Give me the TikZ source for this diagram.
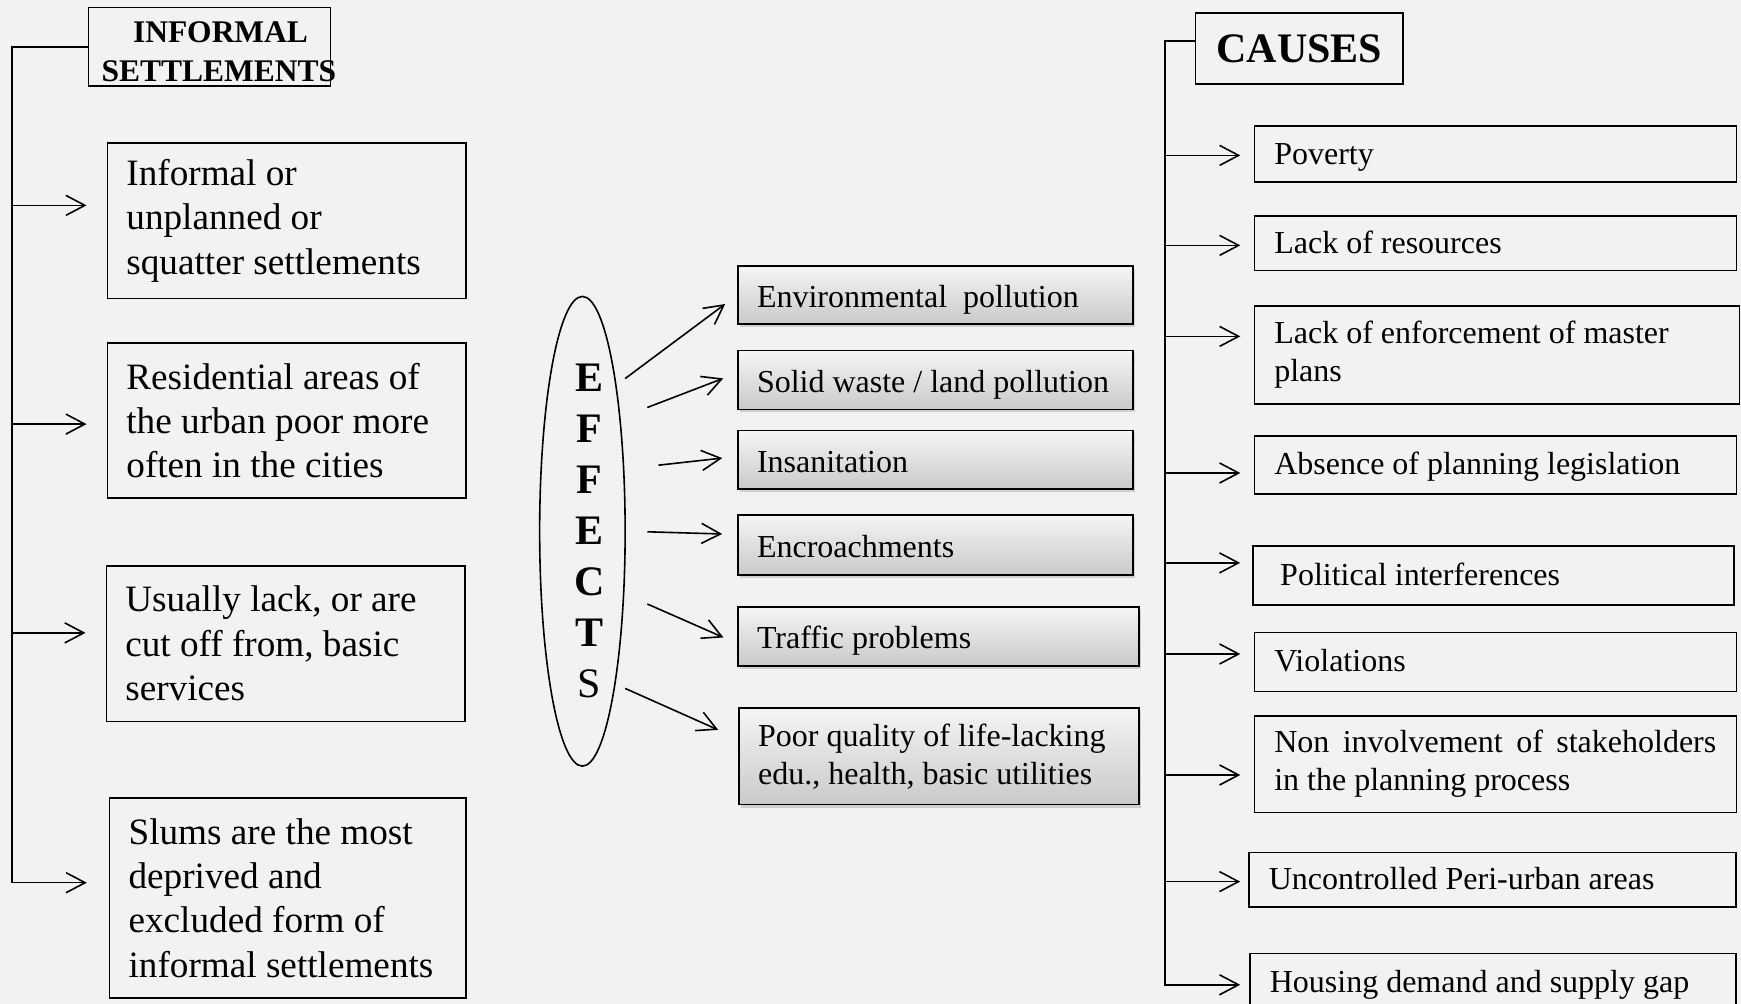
\documentclass[tikz,border=0pt]{standalone}
\usepackage{fontspec}
\setmainfont{Liberation Serif}
\usetikzlibrary{arrows.meta}
\usetikzlibrary{shapes.geometric}
\usetikzlibrary{shadows}
\usetikzlibrary{calc}
\definecolor{bgGray}{RGB}{242,242,242}

\begin{document}
\begin{tikzpicture}[x=0.5pt,y=-0.5pt,
  conn/.style={line width=0.8pt,-{Straight Barb[length=9.5pt,width=10pt]}},
  tight/.style={execute at begin node={\spaceskip=.25em plus .1em minus .05em\relax}},
  lbox/.style={draw,line width=0.8pt,anchor=north west,align=left,inner xsep=9.5pt,tight,
    font=\fontsize{18.6}{22.2}\selectfont},
  ebox/.style={draw,line width=0.8pt,anchor=north west,align=left,inner xsep=9.5pt,tight,
    text width=178.6pt,top color=gray!8,bottom color=gray!42,
    drop shadow={shadow xshift=1pt,shadow yshift=-1.5pt,opacity=0.3},
    font=\fontsize{16}{19}\selectfont},
  cbox/.style={draw,line width=0.8pt,anchor=north west,align=left,inner xsep=10pt,tight,
    text width=221pt,font=\fontsize{16}{19}\selectfont},
  eline/.style={text height=15pt,text depth=2.8pt},
  cline/.style={text height=13.5pt,text depth=3.5pt},
]
\newcommand\efl[1]{\hspace*{7pt}#1}
\fill [bgGray] (0,0) rectangle (1741,1004);
\useasboundingbox (0,0) rectangle (1741,1004);
\clip (0,0) rectangle (1741,1004);

\node [draw,line width=0.8pt,anchor=north west,align=center,text width=108pt,inner xsep=6.5pt,
  inner ysep=1pt,text height=14.8pt,minimum height=39.4pt,font=\fontsize{15.75}{19.5}\selectfont\bfseries]
  (infset) at (87.7,6.7) {\hspace*{11pt}INFORMAL\\\mbox{SETTLEMENTS}};
\node [lbox,text width=160.3pt,minimum height=77.75pt] (unplanned) at (106.6,142.1)
  {Informal or\\unplanned or\\squatter settlements};
\node [lbox,text width=160.3pt,minimum height=77.7pt] (residential) at (106.6,342)
  {Residential areas of\\the urban poor more\\often in the cities};
\node [lbox,text width=160.3pt,minimum height=77.75pt] (services) at (105.5,565.1)
  {Usually lack, or are\\cut off from, basic\\services};
\node [lbox,text width=159.2pt,minimum height=99.9pt] (slums) at (108.8,797.2)
  {Slums are the most\\deprived and\\excluded form of\\informal settlements};

\coordinate (lend) at (12.2,882.7);
\draw [conn,shorten >=11pt] (infset.west) -| (lend) -- (lend -| slums.west);
\foreach \y/\b in {205.4/unplanned,424.1/residential,632.9/services}{
  \coordinate (l-\b) at (12.2,\y);
  \draw [conn,shorten >=10pt] (l-\b) -- (l-\b -| \b.west);
}

\node [draw,ellipse,line width=0.8pt,minimum width=42.75pt,minimum height=234.85pt,
  inner xsep=0pt,inner ysep=-10pt,align=center,font=\fontsize{21}{25.5}\selectfont\bfseries]
  (effects) at (582.4,531.3)
  {\efl{E}\\\efl{F}\\\efl{F}\\\efl{E}\\\efl{C}\\\efl{T}\\\efl{\mdseries S}};

\node [ebox,eline,minimum height=28.85pt] (envpol) at (737.2,265.4) {Environmental\ \ pollution};
\node [ebox,eline,minimum height=29.45pt] (solid) at (737.2,349.7) {Solid waste / land pollution};
\node [ebox,eline,minimum height=29.4pt] (insan) at (737.2,429.7) {Insanitation};
\node [ebox,eline,minimum height=29.95pt] (encroach) at (737.2,514.1) {Encroachments};
\node [ebox,eline,text width=181.4pt,minimum height=29.45pt] (traffic) at (737.2,606.2) {Traffic problems};
\node [ebox,text width=180.9pt,minimum height=48.3pt] (poorq) at (738.3,707.3)
  {Poor quality of life-lacking\\edu., health, basic utilities};

\coordinate (e1) at (625.1,378.6);
\coordinate (e2) at (647.3,407.5);
\coordinate (e3) at (658.4,465.2);
\coordinate (e4) at (647.3,531.8);
\coordinate (e5) at (647.3,604);
\coordinate (e6) at (625.1,688.4);
\draw [conn,shorten >=7.5pt] (e1) -- (envpol.west);
\draw [conn,shorten >=7.5pt] (e2) -- (solid.178);
\draw [conn,shorten >=7.5pt] (e3) -- (insan.179);
\draw [conn,shorten >=7.5pt] (e4) -- (encroach.177);
\draw [conn,shorten >=7.5pt] (e5) -- (traffic.182);
\draw [conn,shorten >=11pt] (e6) -- (poorq.175);

\node [draw,line width=0.8pt,anchor=north west,minimum width=103.8pt,minimum height=35.5pt,
  font=\fontsize{21}{25}\selectfont\bfseries] (causes) at (1194.7,12.2) {CAUSES};

\node [cbox,cline,minimum height=27.75pt] (poverty) at (1253.5,125.5) {Poverty};
\node [cbox,cline,minimum height=27.2pt] (resources) at (1253.5,215.4) {Lack of resources};
\node [cbox,text width=222.6pt,minimum height=48.85pt] (enforce) at (1253.5,305.3)
  {Lack of enforcement of master\\plans};
\node [cbox,cline,minimum height=28.9pt] (absence) at (1253.5,435.2) {Absence of planning legislation};
\node [cbox,cline,text width=220.4pt,minimum height=29.4pt] (political) at (1252.4,545.2)
  {\hspace*{3.5pt}Political interferences};
\node [cbox,cline,minimum height=29.4pt] (violations) at (1253.5,631.8) {Violations};
\node [cbox,align=justify,minimum height=48.3pt] (noninv) at (1253.5,715)
  {Non involvement of stakeholders\linebreak in the planning process};
\node [cbox,cline,text width=223.7pt,minimum height=27.2pt] (periurban) at (1248,851.6)
  {Uncontrolled Peri-urban areas};
\node [cbox,cline,text width=223.2pt,minimum height=28.7pt] (housing) at (1249,952.6)
  {Housing demand and supply gap};

\coordinate (rend) at (1164.7,984.8);
\draw [conn,shorten >=4.4pt] (causes.176) -| (rend) -- (rend -| housing.west);
\foreach \y/\b/\s in {155.4/poverty/6.6,245.4/resources/6.6,336.4/enforce/6.6,
    473/absence/6.6,562.9/political/6.1,654/violations/6.6,775/noninv/6.6,881.6/periurban/3.9}{
  \coordinate (r-\b) at (1164.7,\y);
  \draw [conn,shorten >=\s pt] (r-\b) -- (r-\b -| \b.west);
}
\end{tikzpicture}
\end{document}
